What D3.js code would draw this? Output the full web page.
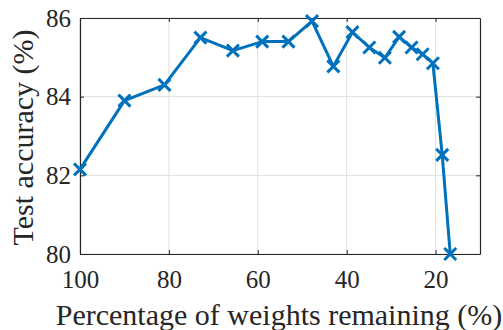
<!DOCTYPE html>
<html><head><meta charset="utf-8">
<script src="https://cdn.jsdelivr.net/npm/d3@7"></script>
<style>body{margin:0;background:#fff}svg{display:block}</style>
</head><body>
<svg id="c" width="503" height="330"></svg>
<script>
const weightsRemaining = [100, 90, 81, 72.9, 65.6, 59.0, 53.1, 47.8, 43.0, 38.7, 34.9, 31.4, 28.2, 25.4, 22.9, 20.6, 18.5, 16.7];
const testAccuracy = [82.15, 83.9, 84.3, 85.5, 85.17, 85.4, 85.4, 85.92, 84.77, 85.64, 85.25, 84.99, 85.52, 85.25, 85.08, 84.85, 82.52, 80.0];
const xTicks = [100, 80, 60, 40, 20];
const yTicks = [80, 82, 84, 86];
const xLabel = "Percentage of weights remaining (%)";
const yLabel = "Test accuracy (%)";

const m = {l: 80, t: 18, r: 23, b: 76};
const W = 503, H = 330;
const svg = d3.select("#c");
const x = d3.scaleLinear().domain([100, 10]).range([m.l, W - m.r]);
const y = d3.scaleLinear().domain([80, 86]).range([H - m.b, m.t]);
const axisCol = "#262626";
const FONT = '"Liberation Serif", "Times New Roman", serif';
const fmt = d3.format("d");

const g = svg.append("g");
g.selectAll(".gx").data(xTicks).join("line")
  .attr("x1", d => x(d)).attr("x2", d => x(d)).attr("y1", y(80)).attr("y2", y(86))
  .attr("stroke", "#dfdfdf").attr("stroke-width", 1);
g.selectAll(".gy").data(yTicks).join("line")
  .attr("y1", d => y(d)).attr("y2", d => y(d)).attr("x1", x(100)).attr("x2", x(10))
  .attr("stroke", "#dfdfdf").attr("stroke-width", 1);

function styleAxis(sel) {
  sel.attr("font-size", null).attr("font-family", null);
  sel.select(".domain").attr("stroke", axisCol).attr("stroke-width", 1.2);
  sel.selectAll(".tick line").attr("stroke", axisCol);
  sel.selectAll(".tick text").attr("fill", axisCol)
    .style("font-family", FONT).style("font-size", "25px");
}
const tl = 4;
svg.append("g").attr("transform", `translate(0,${y(80)})`)
  .call(d3.axisBottom(x).tickValues(xTicks).tickFormat(fmt).tickSizeInner(-tl).tickSizeOuter(0).tickPadding(16))
  .call(styleAxis);
svg.append("g").attr("transform", `translate(0,${y(86)})`)
  .call(d3.axisTop(x).tickValues(xTicks).tickSizeInner(-tl).tickSizeOuter(0).tickFormat(""))
  .call(styleAxis);
svg.append("g").attr("transform", `translate(${x(100)},0)`)
  .call(d3.axisLeft(y).tickValues(yTicks).tickFormat(fmt).tickSizeInner(-tl).tickSizeOuter(0).tickPadding(9))
  .call(styleAxis);
svg.append("g").attr("transform", `translate(${x(10)},0)`)
  .call(d3.axisRight(y).tickValues(yTicks).tickSizeInner(-tl).tickSizeOuter(0).tickFormat(""))
  .call(styleAxis);

const data = weightsRemaining.map((v, i) => ({x: v, y: testAccuracy[i]}));
const col = "#0072BD";
svg.append("path").datum(data)
  .attr("d", d3.line().x(d => x(d.x)).y(d => y(d.y)))
  .attr("fill", "none").attr("stroke", col).attr("stroke-width", 3).attr("stroke-linejoin", "round");
const s = 6;
svg.selectAll(".mk").data(data).join("path")
  .attr("transform", d => `translate(${x(d.x)},${y(d.y)})`)
  .attr("d", `M${-s},${-s}L${s},${s}M${-s},${s}L${s},${-s}`)
  .attr("stroke", col).attr("stroke-width", 3).attr("fill", "none");

svg.append("text").attr("x", 279).attr("y", 325)
  .attr("text-anchor", "middle").attr("fill", axisCol)
  .style("font-family", FONT).style("font-size", "30px")
  .text(xLabel);
svg.append("text").attr("transform", `translate(33,137.5) rotate(-90)`)
  .attr("text-anchor", "middle").attr("fill", axisCol)
  .style("font-family", FONT).style("font-size", "30px")
  .text(yLabel);
</script>
</body></html>
